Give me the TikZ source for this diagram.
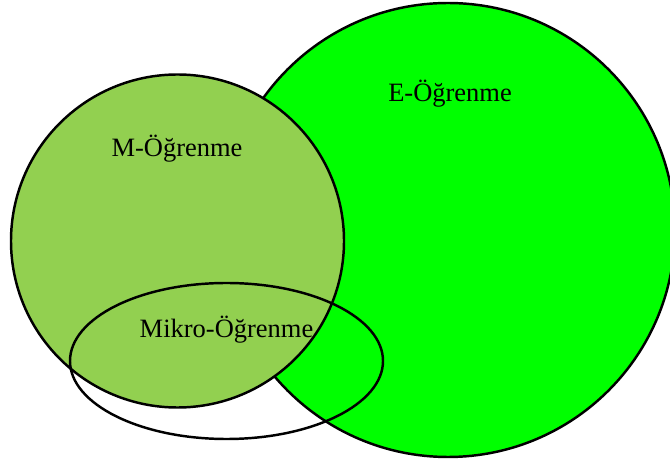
\documentclass[tikz,border=0pt]{standalone}
\usepackage{fontspec}
\setmainfont{Liberation Serif}
\usetikzlibrary{shapes.geometric}
\definecolor{elgreen}{HTML}{00FF00}
\definecolor{mlgreen}{HTML}{92D050}
\begin{document}
\begin{tikzpicture}[
    set/.style={draw=black, line width=2.1pt, inner sep=0pt},
    label/.style={anchor=base, font=\fontsize{22.6}{26}\selectfont}
]
    \useasboundingbox (0,0) rectangle (20.1,13.89);
    \clip (0,0) rectangle (20.1,13.89);
    % Sets
    \node[set, circle, fill=elgreen, minimum size=13.62cm] (elearn) at (13.44, 6.99) {};
    \node[set, circle, fill=mlgreen, minimum size=9.99cm] (mlearn) at (5.325, 6.66) {};
    \node[set, ellipse, minimum width=9.39cm, minimum height=4.68cm] (micro) at (6.795, 3.06) {};
    
    % Labels
    \node[label] (eltext) at (13.5, 10.83) {E-Öğrenme};
    \node[label] (mltext) at (5.31, 9.18) {M-Öğrenme};
    \node[label] (microtext) at (6.795, 3.75) {Mikro-Öğrenme};
\end{tikzpicture}
\end{document}
